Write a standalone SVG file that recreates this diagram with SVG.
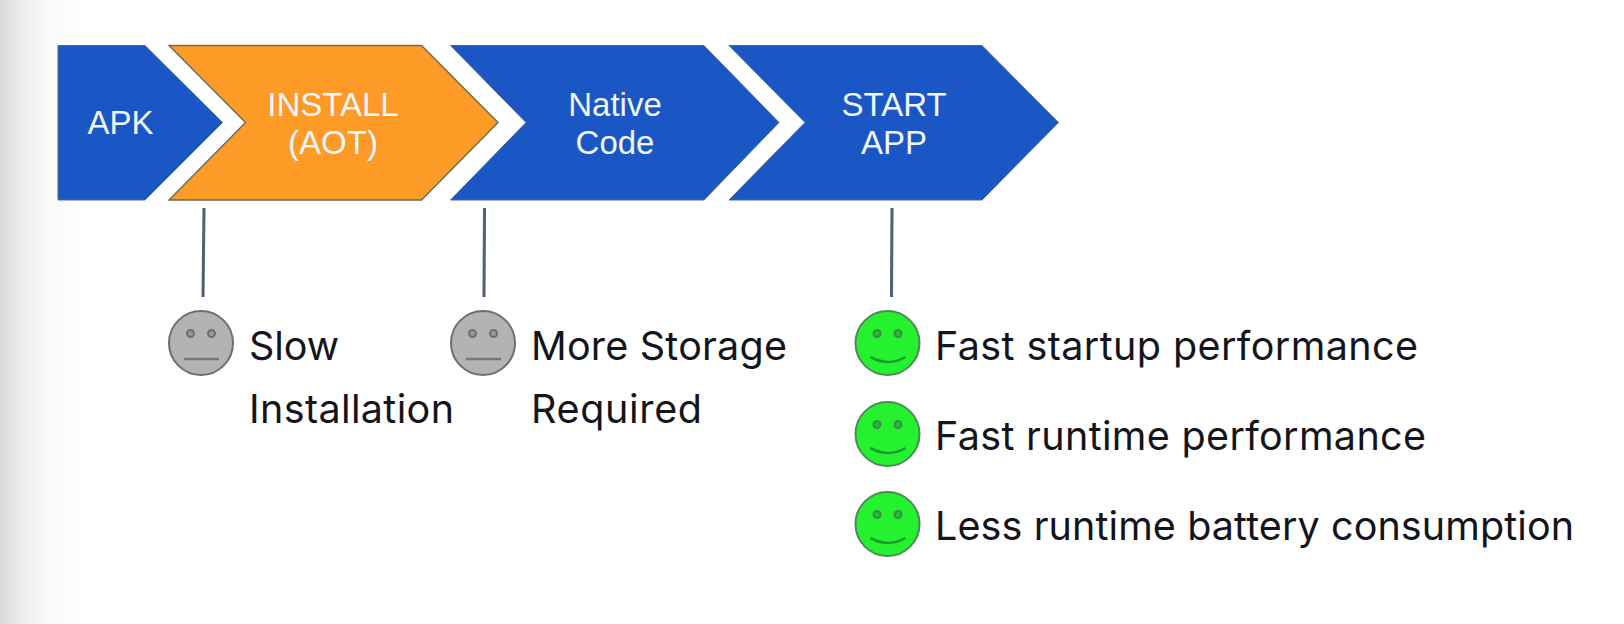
<svg xmlns="http://www.w3.org/2000/svg" width="1624" height="624" viewBox="0 0 1624 624">
<style>
.blue{fill:#1a56c4;stroke:#4a6a9a;stroke-width:1}
.orange{fill:#fe9a26;stroke:#6a6a5a;stroke-width:1.4}
.t{font-family:"Liberation Sans",Arial,sans-serif;font-size:33px;fill:#f2f6ff;text-anchor:middle}
.l{font-family:"Inter","Open Sans",sans-serif;font-size:39.500px;fill:#14141c;font-variant-ligatures:none}
.c{stroke:#4f5f77;stroke-width:3;fill:none}
.sad{fill:#b3b3b5;stroke:#6e6e72;stroke-width:2}
.sadf{fill:none;stroke:#77777c;stroke-width:2.600}
.eye{fill:#98989c;stroke:#6e6e72;stroke-width:2}
.hap{fill:#25f22f;stroke:#4d8a58;stroke-width:2}
.hapf{fill:none;stroke:#1f9a30;stroke-width:2.600}
.eyeg{fill:#1fc030;stroke:#3f8a48;stroke-width:2}
</style>
<defs>
<linearGradient id="bg" x1="0" x2="1" y1="0" y2="0"><stop offset="0" stop-color="#d8d8d8"/><stop offset="0.25" stop-color="#ececec"/><stop offset="0.6" stop-color="#f9f9f9"/><stop offset="1" stop-color="#ffffff"/></linearGradient>
<g id="sad"><circle r="32" class="sad"/><circle cx="-10.500" cy="-9.500" r="3.500" class="eye"/><circle cx="10.500" cy="-9.500" r="3.500" class="eye"/><path d="M-17 16H18" class="sadf"/></g>
<g id="happy"><circle r="32" class="hap"/><circle cx="-10.500" cy="-9.500" r="3.500" class="eyeg"/><circle cx="10.500" cy="-9.500" r="3.500" class="eyeg"/><path d="M-17 14Q1 24 18 14" class="hapf"/></g>
</defs>
<rect width="1624" height="624" fill="#fff"/>
<rect width="82" height="624" fill="url(#bg)"/>
<g id="connectors">
<path class="c" d="M204 208L203 297"/>
<path class="c" d="M484.500 208L484 297"/>
<path class="c" d="M892 208L891.500 297"/>
</g>
<g id="apk"><polygon class="blue" points="58,45.500 145,45.500 222.500,122.500 145,200 58,200"/><text class="t" x="120.500" y="134">APK</text></g>
<g id="install"><polygon class="orange" points="169,45.500 421.500,45.500 498,122.500 421.500,200 169,200 245.500,122.500"/><text class="t" x="333" y="116">INSTALL</text><text class="t" x="333" y="154">(AOT)</text></g>
<g id="native"><polygon class="blue" points="450.500,45.500 704,45.500 779,122.500 704,200 450.500,200 526,122.500"/><text class="t" x="615" y="116">Native</text><text class="t" x="615" y="154">Code</text></g>
<g id="start"><polygon class="blue" points="729,45.500 982,45.500 1058.500,122.500 982,200 729,200 805,122.500"/><text class="t" x="894" y="116">START</text><text class="t" x="894" y="154">APP</text></g>
<g id="slow"><use href="#sad" x="201" y="343"/><text class="l" x="249" y="360" textLength="90">Slow</text><text class="l" x="249" y="423" textLength="205">Installation</text></g>
<g id="storage"><use href="#sad" x="483" y="343"/><text class="l" x="531" y="360" textLength="256">More Storage</text><text class="l" x="531" y="423" textLength="171">Required</text></g>
<g id="startup"><use href="#happy" x="887.500" y="343"/><text class="l" x="935" y="360" textLength="483">Fast startup performance</text></g>
<g id="runtime"><use href="#happy" x="887.500" y="434"/><text class="l" x="935" y="450" textLength="491">Fast runtime performance</text></g>
<g id="battery"><use href="#happy" x="887.500" y="524"/><text class="l" x="935" y="540" textLength="639">Less runtime battery consumption</text></g>
</svg>
